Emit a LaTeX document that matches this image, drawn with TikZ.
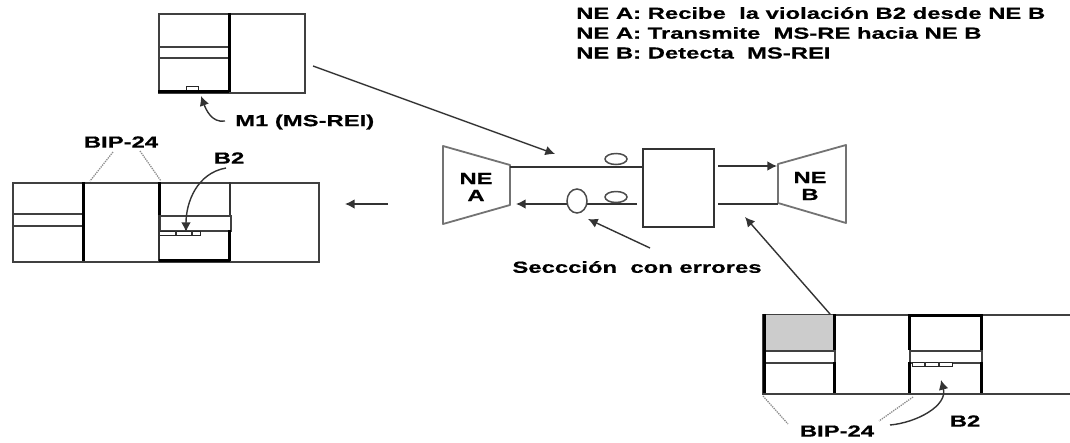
\documentclass[tikz,border=0pt]{standalone}
\usepackage{fontspec}
\setmainfont{Liberation Sans}[BoldFeatures={FakeStretch=1.49,FakeBold=0.6}]
\usepackage{xcolor}
\usetikzlibrary{arrows.meta,positioning,shapes.geometric}

\begin{document}
\begin{tikzpicture}[
    x=1pt, y=-1pt,
    font=\fontsize{16}{17}\selectfont\bfseries,
    framebox/.style={rectangle, draw=black!75, line width=1.5pt, anchor=north west, inner sep=0pt, fill=white},
    band/.style={rectangle, draw=black!75, line width=1.5pt, anchor=north west, inner sep=0pt, fill=white},
    cell/.style={rectangle, draw=black!85, line width=1.2pt, anchor=north west, inner sep=0pt, fill=white},
    thickline/.style={line width=3pt, black},
    edge/.style={-{Latex[length=3.4mm,width=3.4mm]}, line width=1.4pt, black!80},
    wire/.style={line width=1.5pt, black!80},
    bipline/.style={line width=1.3pt, black!45, densely dotted},
    errmark/.style={ellipse, draw=black!70, line width=1.5pt, fill=white, inner sep=0pt},
    nebox/.style={draw=black!55, line width=1.8pt, fill=white, line join=round},
    lbl/.style={inner sep=0pt, align=center}
]
\useasboundingbox (0,0) rectangle (1070,442);

\node[framebox, minimum width=146pt, minimum height=79pt] (f1) at (158,13) {};
\node[band, minimum width=71pt, minimum height=11pt] (f1band) at (158,46) {};
\node[cell, minimum width=12pt, minimum height=5pt] (m1box) at (186,86) {};
\draw[thickline] (229,13) -- (229,92);
\draw[thickline] (158,91) -- (229,91);

\node[framebox, minimum width=306pt, minimum height=79pt] (f2) at (12,182) {};
\node[band, minimum width=71pt, minimum height=12pt] (f2banda) at (12,213) {};
\node[band, minimum width=71pt, minimum height=15pt] (f2bandb) at (159,215) {};
\node[cell, minimum width=41pt, minimum height=4pt] (b2left) at (159,231) {};
\draw[thickline] (83,182) -- (83,261);
\draw[thickline] (159,182) -- (159,215);
\draw[wire] (159,215) -- (159,261);
\draw[wire] (230,182) -- (230,215);
\draw[thickline] (229,230) -- (229,261);
\draw[thickline] (159,260) -- (230,260);
\draw[wire] (176,231) -- (176,235);
\draw[wire] (192,231) -- (192,235);

\node[framebox, minimum width=308pt, minimum height=79pt] (f3) at (762,314) {};
\fill[black!20] (765,315) rectangle (833,350);
\node[band, minimum width=72pt, minimum height=12pt] (f3banda) at (762,350) {};
\node[band, minimum width=72pt, minimum height=12pt] (f3bandb) at (909,350) {};
\node[cell, minimum width=40pt, minimum height=4pt] (b2right) at (912,362) {};
\draw[thickline] (764,314) -- (764,393);
\draw[thickline] (834,314) -- (834,350);
\draw[thickline] (834,362) -- (834,393);
\draw[thickline] (909,314) -- (909,350);
\draw[thickline] (909,362) -- (909,393);
\draw[thickline] (981,314) -- (981,350);
\draw[thickline] (981,362) -- (981,393);
\draw[thickline] (909,315) -- (981,315);
\draw[wire] (925,362) -- (925,366);
\draw[wire] (939,362) -- (939,366);

\node[rectangle, draw=black!80, line width=1.5pt, minimum width=71pt, minimum height=78pt, anchor=north west, inner sep=0pt] (mid) at (642,148) {};
\draw[nebox] (443,146) -- (510,165) -- (510,205) -- (443,224) -- cycle;
\draw[nebox] (846,145) -- (778,164) -- (778,203) -- (846,223) -- cycle;
\node[lbl] (nea) at (476,187) {NE\\A};
\node[lbl] (neb) at (810,186) {NE\\B};

\coordinate (neaup) at (510,167);
\coordinate (nealow) at (516,204);
\coordinate (midlow) at (637,204);
\coordinate (midout) at (718,166);
\coordinate (midout2) at (718,204);
\coordinate (nebup) at (777,166);
\coordinate (neblow) at (778,204);
\coordinate (f1out) at (313,66);
\coordinate (linetip) at (555,154);
\coordinate (leftstart) at (388,204);
\coordinate (lefttip) at (345,204);
\coordinate (f3out) at (830,314);
\coordinate (f3tip) at (745,217);
\coordinate (errtail) at (650,248);
\coordinate (errtip) at (588,219);

\draw[wire] (neaup) -- (mid.west |- neaup);
\draw[edge] (midlow) -- (nealow);
\draw[edge] (midout) -- (nebup);
\draw[wire] (midout2) -- (neblow);
\draw[edge] (f1out) -- (linetip);
\draw[edge] (leftstart) -- (lefttip);
\draw[edge] (f3out) -- (f3tip);
\draw[edge] (errtail) -- (errtip);

\node[errmark, minimum width=22pt, minimum height=11pt] (err1) at (616,159) {};
\node[errmark, minimum width=22pt, minimum height=11pt] (err2) at (616,197) {};
\node[errmark, minimum width=20pt, minimum height=24pt] (err3) at (577,201) {};

\node[lbl, anchor=west] (m1) at (235,122) {M1 (MS-REI)};
\node[lbl] (bipa) at (121,142) {BIP-24};
\node[lbl] (b2a) at (229,158) {B2};
\node[lbl] (bipb) at (837,431) {BIP-24};
\node[lbl] (b2b) at (965,421) {B2};
\node[lbl] (secc) at (637,267) {Seccción\ \ con errores};
\node[lbl, anchor=west] (t1) at (576,13) {NE A: Recibe\ \ la violación B2 desde NE B};
\node[lbl, anchor=west] (t2) at (576,33) {NE A: Transmite\ \ MS-RE hacia NE B};
\node[lbl, anchor=west] (t3) at (576,53) {NE B: Detecta\ \ MS-REI};

\coordinate (m1tail) at (225,121);
\coordinate (b2atail) at (226,168);
\coordinate (b2btail) at (890,425);
\coordinate (m1tip) at (201,96);
\coordinate (b2atip) at (186,232);
\coordinate (b2btip) at (941,380);
\draw[edge] (m1tail) to[out=190, in=-70] (m1tip);
\draw[edge] (b2atail) to[out=190, in=90] (b2atip);
\draw[edge] (b2btail) to[out=5, in=-75] (b2btip);

\coordinate (bipa1) at (113,152);
\coordinate (bipa2) at (90,181);
\coordinate (bipa3) at (140,151);
\coordinate (bipa4) at (161,181);
\coordinate (bipb1) at (763,396);
\coordinate (bipb2) at (788,424);
\coordinate (bipb3) at (913,397);
\coordinate (bipb4) at (879,421);
\draw[bipline] (bipa1) -- (bipa2);
\draw[bipline] (bipa3) -- (bipa4);
\draw[bipline] (bipb1) -- (bipb2);
\draw[bipline] (bipb3) -- (bipb4);
\end{tikzpicture}
\end{document}
